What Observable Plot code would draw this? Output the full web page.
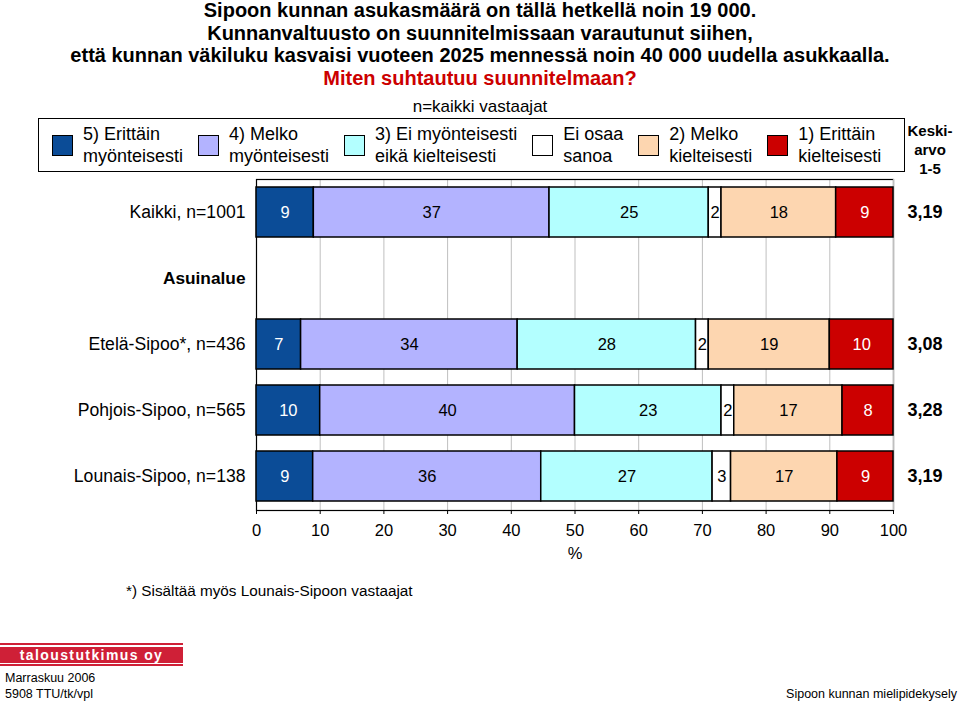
<!DOCTYPE html>
<html>
<head>
<meta charset="utf-8">
<script src="https://cdn.jsdelivr.net/npm/d3@7"></script>
<script src="https://cdn.jsdelivr.net/npm/@observablehq/plot@0.6"></script>
<style>
  html, body { margin: 0; padding: 0; background: #fff; }
  body { font-family: "Liberation Sans", Arial, sans-serif; color: #000; }
  #page { position: relative; width: 960px; height: 703px; overflow: hidden; }
  .abs { position: absolute; }
  #title { left: 0; width: 960px; top: -1px; text-align: center; font-weight: bold; font-size: 20px; line-height: 22.6px; }
  #title .q { color: #cc0000; }
  #nall { left: 0; width: 960px; top: 97px; text-align: center; font-size: 17px; line-height: 20px; }
  #legend { left: 38px; top: 118px; width: 852px; height: 52px; border: 1.5px solid #000; display: flex; align-items: center; gap: 15px; padding-left: 13px; box-sizing: content-box; }
  .item { display: flex; align-items: center; gap: 10px; }
  .sw { width: 19px; height: 19px; border: 1.5px solid #000; flex: none; }
  .lt { font-size: 18px; line-height: 22px; white-space: nowrap; }
  #mean { left: 890px; width: 80px; top: 120.5px; text-align: center; font-weight: bold; font-size: 15px; line-height: 19px; }
  #chart { left: 0; top: 170px; }
  #foot { left: 126px; top: 582px; font-size: 15.3px; line-height: 18px; }
  #logo { left: 0; top: 643px; width: 183px; }
  #logo .thin { height: 2px; background: #cf2037; }
  #logo .gap { height: 1.5px; background: #fff; }
  #logo .main { height: 16px; background: #cf2037; color: #fff; font-weight: bold; font-size: 14px; line-height: 16px; text-align: center; letter-spacing: 1.4px; }
  #date { left: 5px; top: 670px; font-size: 12.5px; line-height: 16px; }
  #src { right: 3px; top: 686px; font-size: 12.5px; line-height: 16px; }
</style>
</head>
<body>
<div id="page">
  <div id="title" class="abs"></div>
  <div id="nall" class="abs"></div>
  <div id="legend" class="abs"></div>
  <div id="mean" class="abs"></div>
  <div id="chart" class="abs"></div>
  <div id="foot" class="abs"></div>
  <div id="logo" class="abs"><div class="thin"></div><div class="gap"></div><div class="main"></div><div class="gap"></div><div class="thin"></div></div>
  <div id="date" class="abs"></div>
  <div id="src" class="abs"></div>
</div>
<script>
// ---- Texts ----
const titleLines = [
  "Sipoon kunnan asukasmäärä on tällä hetkellä noin 19 000.",
  "Kunnanvaltuusto on suunnitelmissaan varautunut siihen,",
  "että kunnan väkiluku kasvaisi vuoteen 2025 mennessä noin 40 000 uudella asukkaalla."
];
const question = "Miten suhtautuu suunnitelmaan?";
const baseNote = "n=kaikki vastaajat";
const meanHeader = ["Keski-", "arvo", "1-5"];
const footnote = "*) Sisältää myös Lounais-Sipoon vastaajat";
const logoText = "taloustutkimus oy";
const dateLines = ["Marraskuu 2006", "5908 TTU/tk/vpl"];
const sourceText = "Sipoon kunnan mielipidekysely";
const axisLabel = "%";

// ---- Categories ----
const categories = ["Kaikki, n=1001", "Asuinalue", "Etelä-Sipoo*, n=436", "Pohjois-Sipoo, n=565", "Lounais-Sipoo, n=138"];
const headerCategories = ["Asuinalue"];
const barCategories = ["Kaikki, n=1001", "Etelä-Sipoo*, n=436", "Pohjois-Sipoo, n=565", "Lounais-Sipoo, n=138"];

// ---- Response classes (legend, stack order) ----
const responses = ["5) Erittäin myönteisesti", "4) Melko myönteisesti", "3) Ei myönteisesti eikä kielteisesti", "Ei osaa sanoa", "2) Melko kielteisesti", "1) Erittäin kielteisesti"];
const legendLines = [["5) Erittäin", "myönteisesti"], ["4) Melko", "myönteisesti"], ["3) Ei myönteisesti", "eikä kielteisesti"], ["Ei osaa", "sanoa"], ["2) Melko", "kielteisesti"], ["1) Erittäin", "kielteisesti"]];
const colors = ["#0b4c97", "#b3b3ff", "#b3ffff", "#ffffff", "#fdd6b0", "#cc0000"];
const whiteText = ["5) Erittäin myönteisesti", "1) Erittäin kielteisesti"];

// ---- Values (%), per bar category ----
const erittainMyonteisesti = [9, 7, 10, 8.9];
const melkoMyonteisesti = [37, 34, 40, 35.8];
const eiMyonteisestiEikaKielteisesti = [25, 28, 23, 26.9];
const eiOsaaSanoa = [2, 2, 2, 2.9];
const melkoKielteisesti = [18, 19, 17, 16.7];
const erittainKielteisesti = [9, 10, 8, 8.8];
const means = ["3,19", "3,08", "3,28", "3,19"];
const xTicks = [0, 10, 20, 30, 40, 50, 60, 70, 80, 90, 100];

const series = [erittainMyonteisesti, melkoMyonteisesti, eiMyonteisestiEikaKielteisesti, eiOsaaSanoa, melkoKielteisesti, erittainKielteisesti];
const rows = [];
barCategories.forEach((cat, i) => {
  responses.forEach((resp, j) => rows.push({cat, resp, value: series[j][i]}));
});
const meanRows = barCategories.map((cat, i) => ({cat, mean: means[i]}));

// ---- HTML texts ----
const t = document.getElementById("title");
t.innerHTML = titleLines.map(l => `<div>${l}</div>`).join("") + `<div class="q">${question}</div>`;
document.getElementById("nall").textContent = baseNote;
document.getElementById("mean").innerHTML = meanHeader.map(l => `<div>${l}</div>`).join("");
document.getElementById("foot").textContent = footnote;
document.querySelector("#logo .main").textContent = logoText;
document.getElementById("date").innerHTML = dateLines.map(l => `<div>${l}</div>`).join("");
document.getElementById("src").textContent = sourceText;
const lg = document.getElementById("legend");
responses.forEach((r, j) => {
  const it = document.createElement("div");
  it.className = "item";
  it.innerHTML = `<div class="sw" style="background:${colors[j]}"></div><div class="lt">${legendLines[j].map(l => `<div>${l}</div>`).join("")}</div>`;
  lg.appendChild(it);
});

// ---- Chart ----
const chart = Plot.plot({
  width: 960,
  height: 395,
  marginLeft: 256,
  marginRight: 67,
  marginTop: 9,
  marginBottom: 55,
  style: {fontFamily: "Liberation Sans, Arial, sans-serif", fontSize: "16px", background: "transparent", overflow: "visible", color: "#000"},
  x: {domain: [0, 100]},
  y: {domain: categories, axis: null, paddingInner: 0.24, paddingOuter: 0.12},
  color: {domain: responses, range: colors},
  marks: [
    Plot.gridX(xTicks, {stroke: "#bfbfbf", strokeOpacity: 1, strokeWidth: 1}),
    Plot.frame({stroke: "#000", strokeWidth: 1.2}),
    Plot.ruleX([100], {stroke: "#bfbfbf", strokeWidth: 1.2}),
    Plot.barX(rows, Plot.stackX({x: "value", y: "cat", z: "resp", fill: "resp", stroke: "#000", strokeWidth: 1.5})),
    Plot.text(rows, Plot.stackX({x: "value", y: "cat", z: "resp", text: d => whiteText.includes(d.resp) ? "" : Math.round(d.value), fill: "#000", fontSize: 16.5})),
    Plot.text(rows, Plot.stackX({x: "value", y: "cat", z: "resp", text: d => whiteText.includes(d.resp) ? Math.round(d.value) : "", fill: "#fff", fontSize: 16.5})),
    Plot.text(categories.filter(c => !headerCategories.includes(c)), {y: d => d, text: d => d, frameAnchor: "left", textAnchor: "end", dx: -11, fontSize: 17.6}),
    Plot.text(headerCategories, {y: d => d, text: d => d, frameAnchor: "left", textAnchor: "end", dx: -11, fontSize: 17.3, fontWeight: "bold"}),
    Plot.text(meanRows, {y: "cat", text: "mean", frameAnchor: "right", textAnchor: "middle", dx: 31.5, fontSize: 18, fontWeight: "bold"}),
    Plot.axisX(xTicks, {tickSize: 4, tickPadding: 10, fontSize: 16.5, label: null}),
    Plot.text([axisLabel], {text: d => d, frameAnchor: "bottom", dy: 48, fontSize: 16.5})
  ]
});
document.getElementById("chart").appendChild(chart);
</script>
</body>
</html>
